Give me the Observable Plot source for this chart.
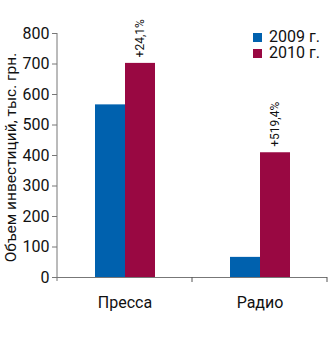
<!DOCTYPE html>
<html>
<head>
<meta charset="utf-8">
<script src="https://cdn.jsdelivr.net/npm/d3@7"></script>
<script src="https://cdn.jsdelivr.net/npm/@observablehq/plot@0.6"></script>
<style>
  html, body { margin: 0; padding: 0; background: #fff; }
  #wrap { position: relative; width: 331px; height: 337px; font-family: Roboto, "Noto Sans", sans-serif; }
  #legend { position: absolute; left: 253px; top: 29px; font-size: 16px; line-height: 16px; color: #111; }
  .row { display: flex; align-items: center; height: 16px; white-space: nowrap; }
  .sw { width: 9px; height: 9px; margin-right: 7px; flex: none; }
  .lt { display: inline-block; height: 16px; line-height: 16px; }
</style>
</head>
<body>
<div id="wrap"></div>
<script>
const categories = ["Пресса", "Радио"];
const years = ["2009 г.", "2010 г."];
const values2009 = [566, 66];
const values2010 = [702, 409];
const growthLabels = ["+24,1%", "+519,4%"];
const yTicks = [0, 100, 200, 300, 400, 500, 600, 700, 800];
const colors = ["#0061ae", "#990842"];
const yTitle = "Объем инвестиций, тыс. грн.";

const data = categories.flatMap((c, i) => [
  {cat: c, year: years[0], value: values2009[i]},
  {cat: c, year: years[1], value: values2010[i], label: growthLabels[i]}
]);
const labelData = data.filter(d => d.label);

const plot = Plot.plot({
  width: 331,
  height: 337,
  marginLeft: 57,
  marginRight: 4,
  marginTop: 33,
  marginBottom: 60,
  style: {fontFamily: "Roboto, 'Noto Sans', sans-serif", color: "#111", background: "transparent"},
  fx: {domain: categories, padding: 0, label: null},
  x: {domain: years, paddingInner: 0, paddingOuter: 1.18, axis: null},
  y: {domain: [0, 800]},
  color: {domain: years, range: colors},
  marks: [
    Plot.barY(data, {fx: "cat", x: "year", y: "value", fill: "year"}),
    Plot.ruleY([0], {stroke: "#777", strokeWidth: 1}),
    Plot.text(labelData, {fx: "cat", x: "year", y: "value", text: "label", rotate: -90, textAnchor: "start", dy: -6, fontSize: 12, fill: "#111"}),
    Plot.axisY({ticks: yTicks, tickSize: 5, tickPadding: 3, fontSize: 16, stroke: "#777", label: null}),
    Plot.text([yTitle], {fx: () => categories[0], text: d => d, frameAnchor: "left", textAnchor: "middle", lineAnchor: "middle", rotate: -90, dx: -46, dy: 2, fontSize: 15.5, fill: "#111"}),
    Plot.axisFx({anchor: "bottom", tickSize: 0, tickPadding: 19, fontSize: 16, label: null})
  ]
});

// axis line and band-boundary ticks from Plot's scales
const svg = d3.select(plot.tagName === "svg" ? plot : plot.querySelector("svg"));
const fx = plot.scale("fx");
const ys = plot.scale("y");
const y0 = ys.apply(0), yTop = ys.apply(800);
const edges = fx.domain.map(d => fx.apply(d)).concat([fx.apply(fx.domain[fx.domain.length - 1]) + fx.bandwidth]);
svg.append("line")
  .attr("x1", edges[0]).attr("x2", edges[0])
  .attr("y1", yTop).attr("y2", y0 + 4)
  .attr("stroke", "#777");
svg.append("g").attr("stroke", "#555").selectAll("line").data(edges.slice(1)).join("line")
  .attr("x1", d => d).attr("x2", d => d)
  .attr("y1", y0).attr("y2", y0 + 5);

const wrap = document.getElementById("wrap");
wrap.appendChild(plot);

const legend = document.createElement("div");
legend.id = "legend";
years.forEach((yv, i) => {
  const row = document.createElement("div");
  row.className = "row";
  const sw = document.createElement("span");
  sw.className = "sw";
  sw.style.background = colors[i];
  const t = document.createElement("span");
  t.className = "lt";
  t.textContent = yv;
  row.appendChild(sw);
  row.appendChild(t);
  legend.appendChild(row);
});
wrap.appendChild(legend);
</script>
</body>
</html>
